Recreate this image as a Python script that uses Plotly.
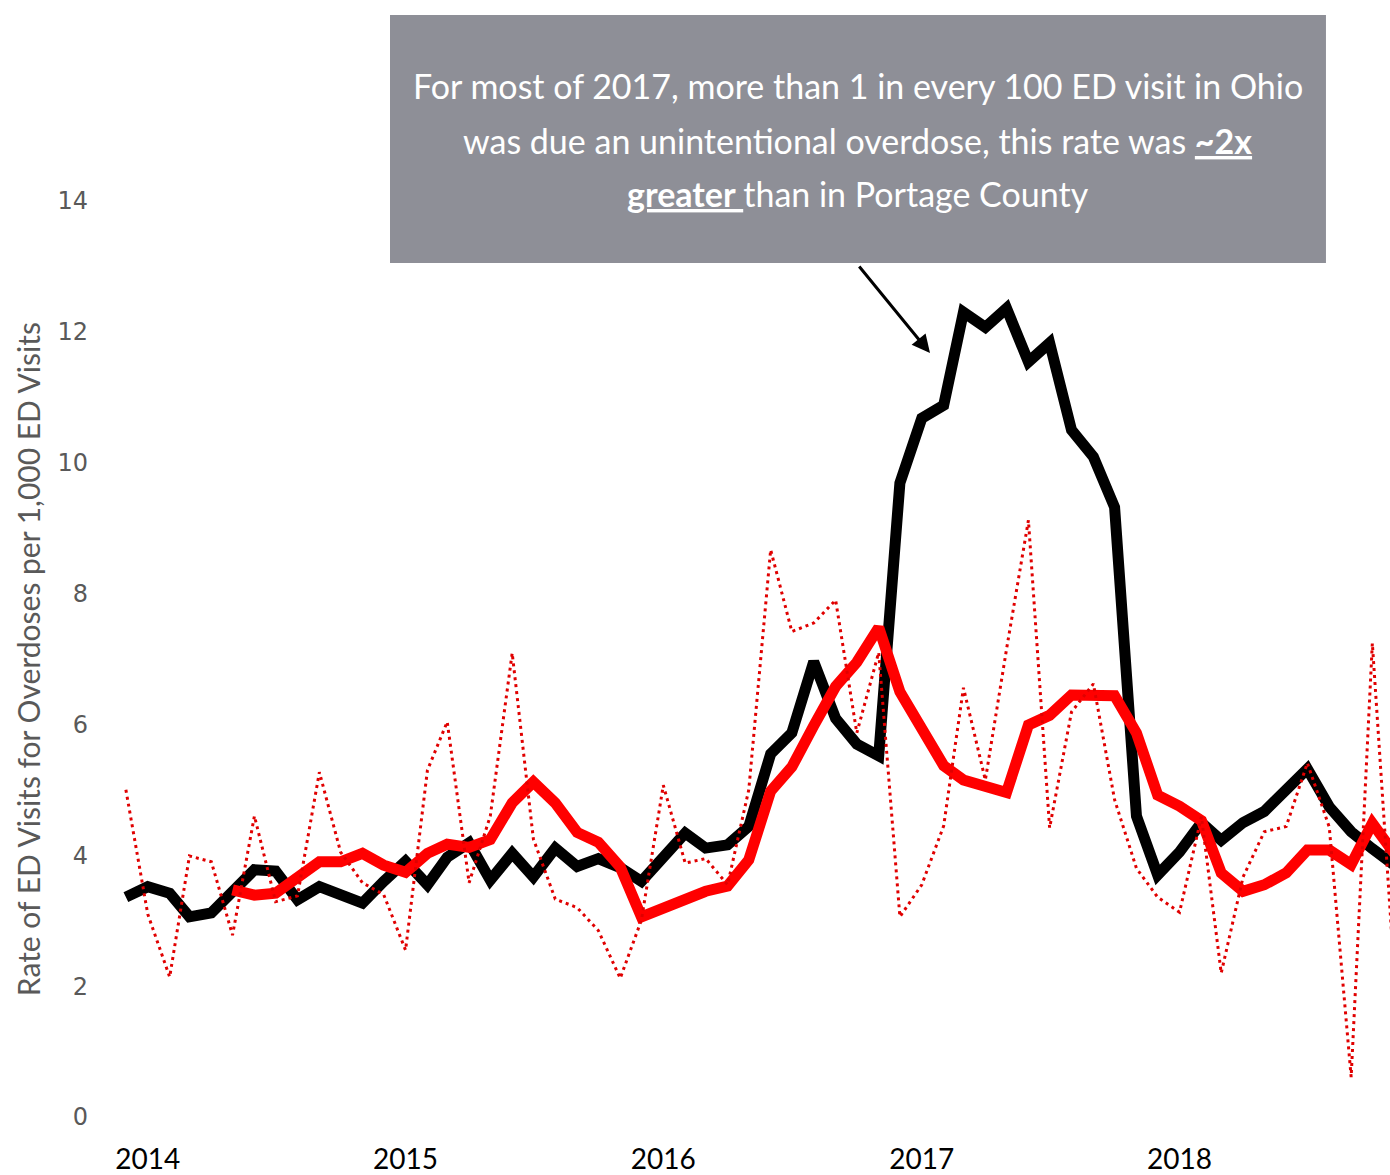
import pandas as pd
import plotly.graph_objects as go

# Monthly categories (Dec 2013 .. Nov 2018)
months = pd.date_range("2013-12-01", periods=60, freq="MS")

# Ohio – rate of ED visits for overdoses per 1,000 ED visits (solid black)
ohio = [3.36, 3.52, 3.42, 3.06, 3.12, 3.45, 3.78, 3.76, 3.32, 3.52,
        3.39, 3.27, 3.60, 3.91, 3.55, 3.97, 4.19, 3.62, 4.03, 3.67,
        4.11, 3.83, 3.95, 3.81, 3.60, 3.95, 4.34, 4.11, 4.16, 4.44,
        5.55, 5.87, 6.96, 6.09, 5.70, 5.52, 9.69, 10.68, 10.88, 12.30,
        12.07, 12.36, 11.54, 11.83, 10.50, 10.09, 9.32, 4.60, 3.70, 4.05,
        4.50, 4.23, 4.50, 4.67, 5.00, 5.32, 4.74, 4.36, 4.10, 3.85]

# Portage County – monthly rate (dotted red)
portage = [5.00, 3.10, 2.14, 3.99, 3.90, 2.78, 4.60, 3.29, 3.38, 5.27,
           4.05, 3.58, 3.40, 2.55, 5.30, 6.04, 3.58, 4.60, 7.09, 4.25,
           3.33, 3.20, 2.85, 2.12, 3.01, 5.07, 3.88, 3.95, 3.55, 5.00,
           8.67, 7.42, 7.55, 7.90, 5.87, 7.10, 3.06, 3.55, 4.45, 6.56,
           5.15, 7.15, 9.12, 4.42, 6.19, 6.62, 4.85, 3.80, 3.36, 3.13,
           4.59, 2.20, 3.67, 4.36, 4.44, 5.41, 4.43, 0.61, 7.24, 2.20]

# Portage County – 6-month moving average (thick red)
portage_ma = [None, None, None, None, None, 3.47, 3.39, 3.42, 3.65, 3.90,
              3.90, 4.03, 3.85, 3.74, 4.03, 4.17, 4.12, 4.24, 4.80, 5.12,
              4.80, 4.35, 4.20, 3.82, 3.06, 3.20, 3.32, 3.45, 3.53, 3.93,
              4.98, 5.35, 5.98, 6.58, 6.95, 7.48, 6.50, 5.91, 5.37, 5.15,
              5.04, 4.96, 5.99, 6.14, 6.45, 6.45, 6.44, 5.87, 4.92, 4.75,
              4.53, 3.73, 3.45, 3.55, 3.73, 4.08, 4.08, 3.86, 4.49, 4.03]

year_ticks = ["2014-01-01", "2015-01-01", "2016-01-01", "2017-01-01", "2018-01-01"]
year_labels = ["2014", "2015", "2016", "2017", "2018"]
y_ticks = [0, 2, 4, 6, 8, 10, 12, 14]

fig = go.Figure()
fig.add_trace(go.Scatter(x=months, y=ohio, mode="lines",
                         line=dict(color="#000000", width=11), name="Ohio"))
fig.add_trace(go.Scatter(x=months, y=portage_ma, mode="lines",
                         line=dict(color="#FF0000", width=11), name="Portage (6-mo avg)"))
fig.add_trace(go.Scatter(x=months, y=portage, mode="lines",
                         line=dict(color="#E00000", width=3, dash="3px,4px"), name="Portage"))

fig.update_layout(
    width=1390, height=1175,
    margin=dict(l=104, r=0, t=201, b=58, autoexpand=False),
    paper_bgcolor="white", plot_bgcolor="white",
    showlegend=False,
    xaxis=dict(type="date", range=["2013-10-31", "2018-10-26"],
               tickvals=year_ticks, ticktext=year_labels, automargin=False,
               showgrid=False, zeroline=False, showline=False, ticks="",
               tickfont=dict(family="Lato", size=28, color="#000000"),
               ticklabelstandoff=23),
    yaxis=dict(range=[0, 14], tickvals=y_ticks, automargin=False,
               showgrid=False, zeroline=False, showline=False, ticks="",
               tickfont=dict(family="DejaVu Sans", size=24, color="#595959"),
               ticklabelstandoff=15),
)

# y-axis title
fig.add_annotation(text="Rate of ED Visits for Overdoses per 1,000 ED Visits",
                   xref="paper", yref="paper", x=-0.059, y=0.5,
                   xanchor="center", yanchor="middle", textangle=-90,
                   showarrow=False,
                   font=dict(family="Lato", size=30, color="#595959"))

# callout box
fig.add_shape(type="rect", xref="paper", yref="paper",
              x0=0.2224, x1=0.9502, y0=0.9323, y1=1.2031,
              fillcolor="#8E8F97", line=dict(width=0), layer="above")

box_font = dict(family="Lato", size=34, color="white")
lines = [
    "For most of 2017, more than 1 in every 100 ED visit in Ohio",
    "was due an unintentional overdose, this rate was <b><u>~2x</u></b>",
    "<b><u>greater </u></b>than in Portage County",
]
line_y = [1.1265, 1.0664, 1.0086]
for t, yy in zip(lines, line_y):
    fig.add_annotation(text=t, xref="paper", yref="paper", x=0.5863, y=yy,
                       xanchor="center", yanchor="middle", showarrow=False,
                       font=box_font)

# arrow
fig.add_annotation(text="", xref="paper", yref="paper", x=0.6423, y=0.834,
                   ax=-72, ay=-88, axref="pixel", ayref="pixel",
                   showarrow=True, arrowhead=2, arrowsize=1.2, arrowwidth=3,
                   arrowcolor="#000000")

fig.write_html("out.html",
               config={"displayModeBar": False},
               post_script="document.documentElement.style.margin='0';"
                           "document.body.style.margin='0';"
                           "document.body.style.overflow='hidden';")
